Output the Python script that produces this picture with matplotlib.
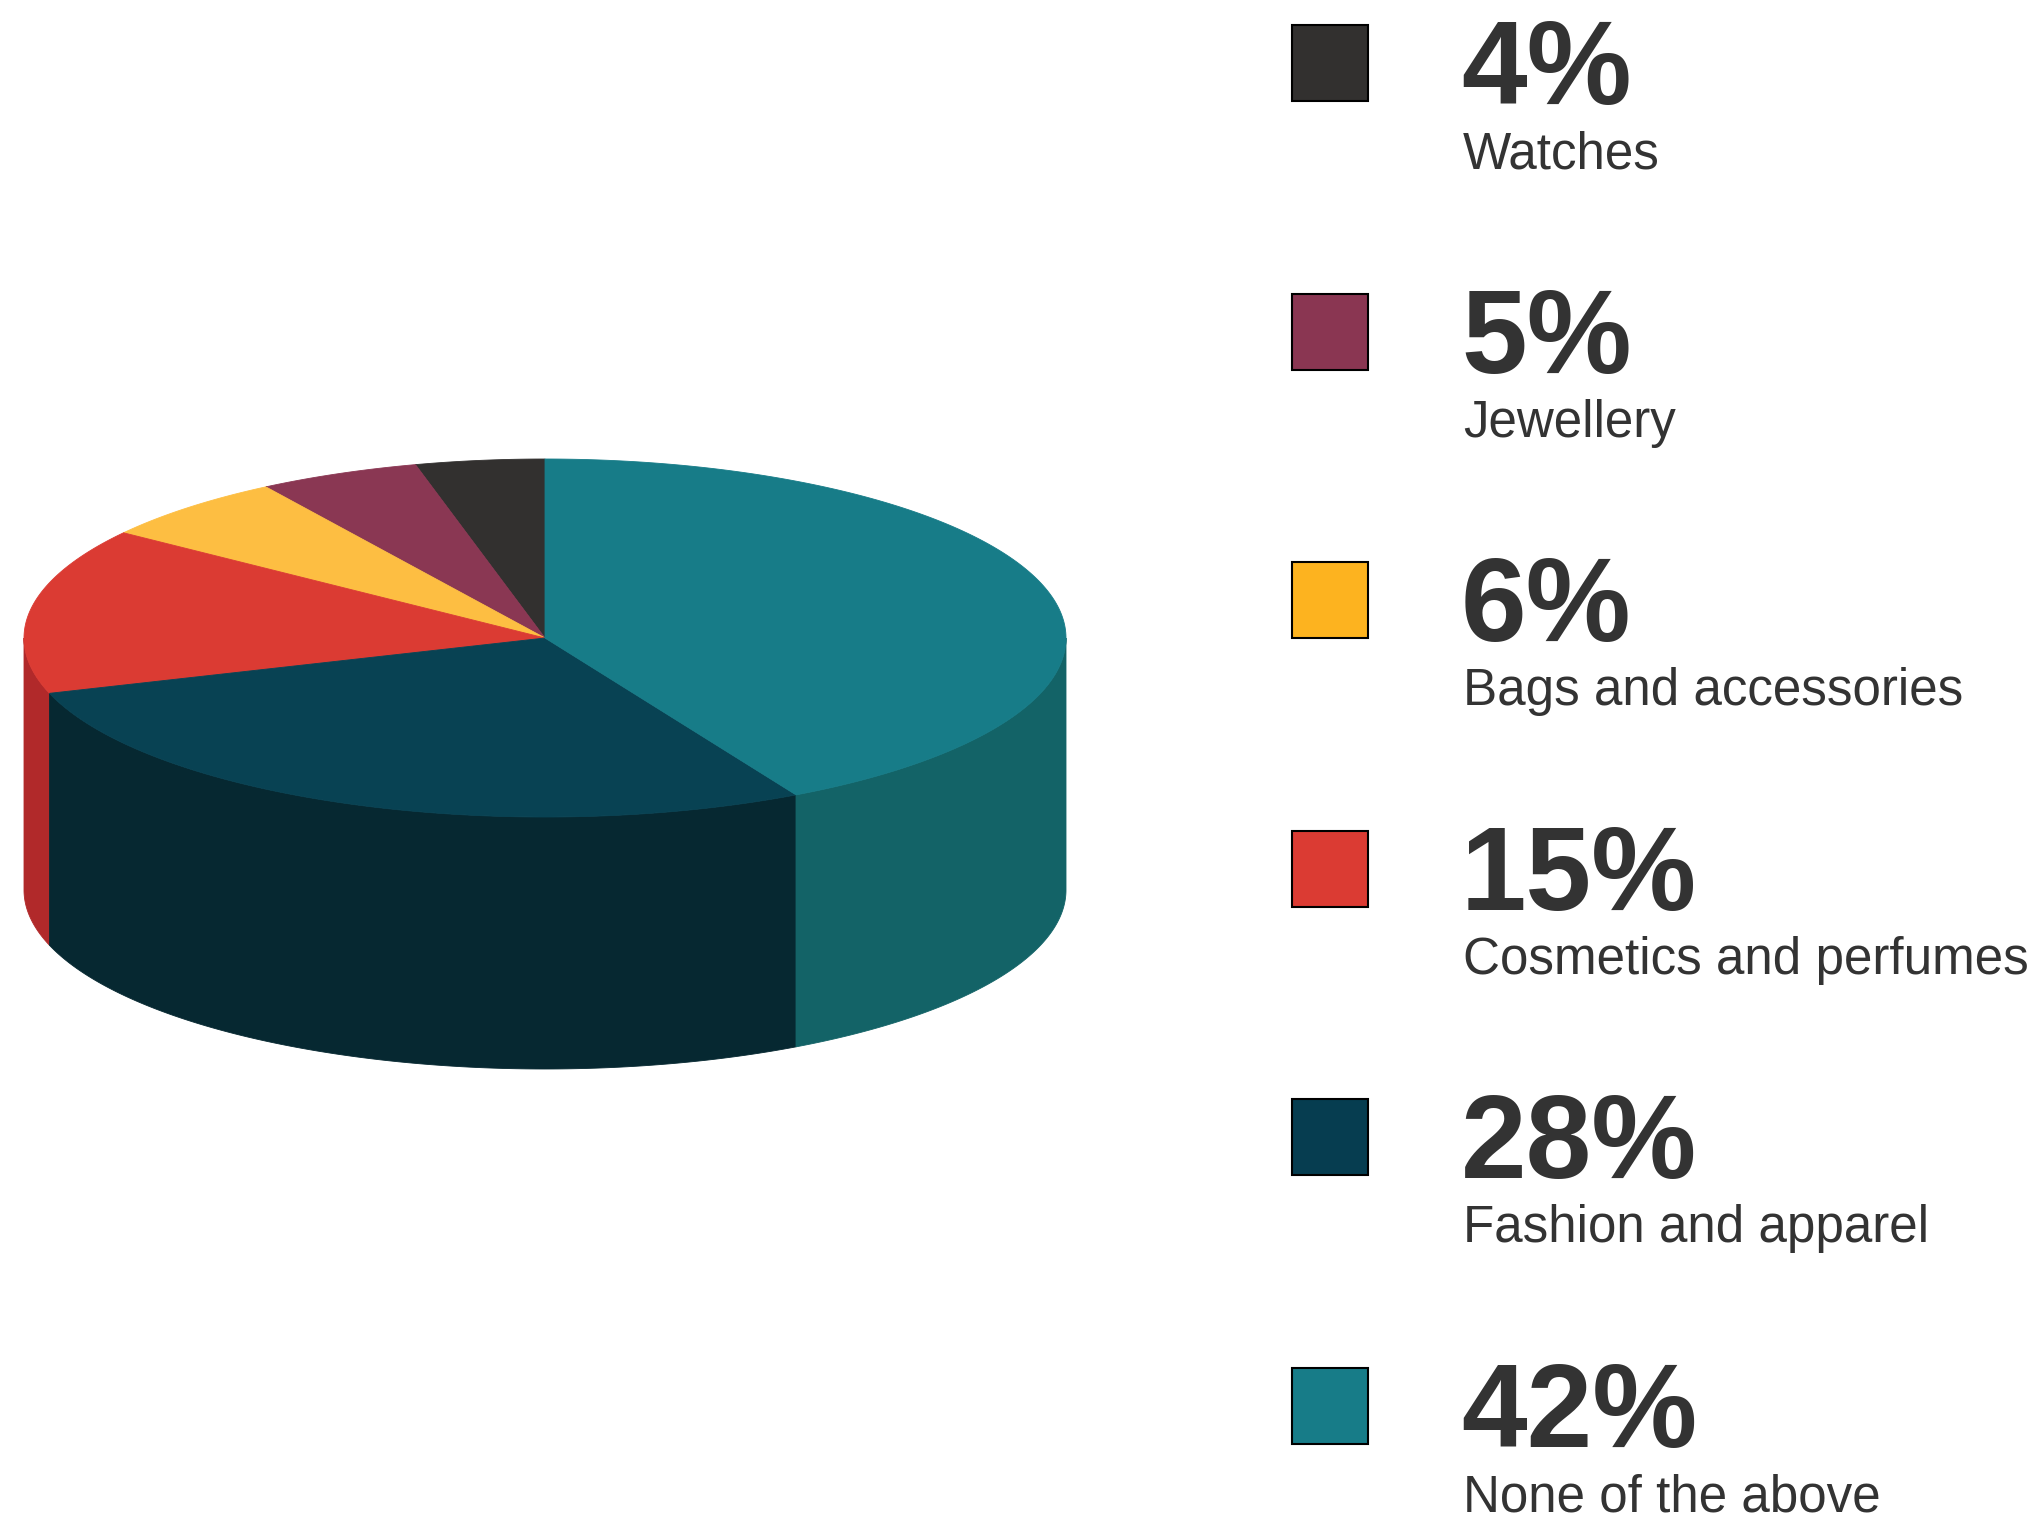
import numpy as np
import matplotlib.pyplot as plt
from matplotlib.patches import Polygon, Rectangle

plt.rcParams['font.family'] = ['Liberation Sans', 'DejaVu Sans']

# Share of respondents by category
labels = ['Watches', 'Jewellery', 'Bags and accessories',
          'Cosmetics and perfumes', 'Fashion and apparel', 'None of the above']
shares = [4, 5, 6, 15, 28, 42]

top_colors = ['#32302f', '#8a3753', '#fdbe42', '#db3b33', '#084253', '#177c88']
side_colors = ['#252322', '#6b2a40', '#d99c2c', '#b1292a', '#062831', '#136367']
legend_colors = ['#32302f', '#8a3652', '#fdb31f', '#db3b33', '#063d50', '#177c88']

W, H = 2034, 1523
fig = plt.figure(figsize=(W / 100, H / 100), dpi=100)
ax = fig.add_axes([0, 0, 1, 1])
ax.set_xlim(0, W)
ax.set_ylim(H, 0)
ax.axis('off')

# pie geometry (pixels)
cx, cy = 545, 638
rx, ry = 521, 179
depth = 252


def arc(t0, t1, dy=0, n=200):
    t = np.radians(np.linspace(t0, t1, n))
    return np.column_stack([cx + rx * np.cos(t), cy - ry * np.sin(t) + dy])


# slice angles: counter-clockwise from 12 o'clock
ends = 90 + 360 * np.cumsum(shares) / sum(shares)
starts = np.r_[90, ends[:-1]]

# side walls (only the front half, angles 180..360)
for a, b, col in zip(starts, ends, side_colors):
    lo, hi = max(a, 180), min(b, 360)
    if hi <= lo:
        continue
    pts = np.vstack([arc(lo, hi), arc(hi, lo, dy=depth)])
    ax.add_patch(Polygon(pts, closed=True, facecolor=col, edgecolor=col, lw=0.6))

# top face wedges
for a, b, col in zip(starts, ends, top_colors):
    pts = np.vstack([[cx, cy], arc(a, b)])
    ax.add_patch(Polygon(pts, closed=True, facecolor=col, edgecolor=col, lw=0.6))

# legend column
step = 268.6
for i, (lab, val, col) in enumerate(zip(labels, shares, legend_colors)):
    y0 = 25 + i * step
    ax.add_patch(Rectangle((1292, y0), 76, 76, facecolor=col,
                           edgecolor='black', lw=1.5))
    ax.text(1461, y0 + 79, f'{val}%', fontsize=85, fontweight='bold',
            color='#333333', ha='left', va='baseline')
    ax.text(1463, y0 + 143, lab, fontsize=36.8, color='#333333',
            ha='left', va='baseline')

fig.savefig('out.png', dpi=100, facecolor='white')
